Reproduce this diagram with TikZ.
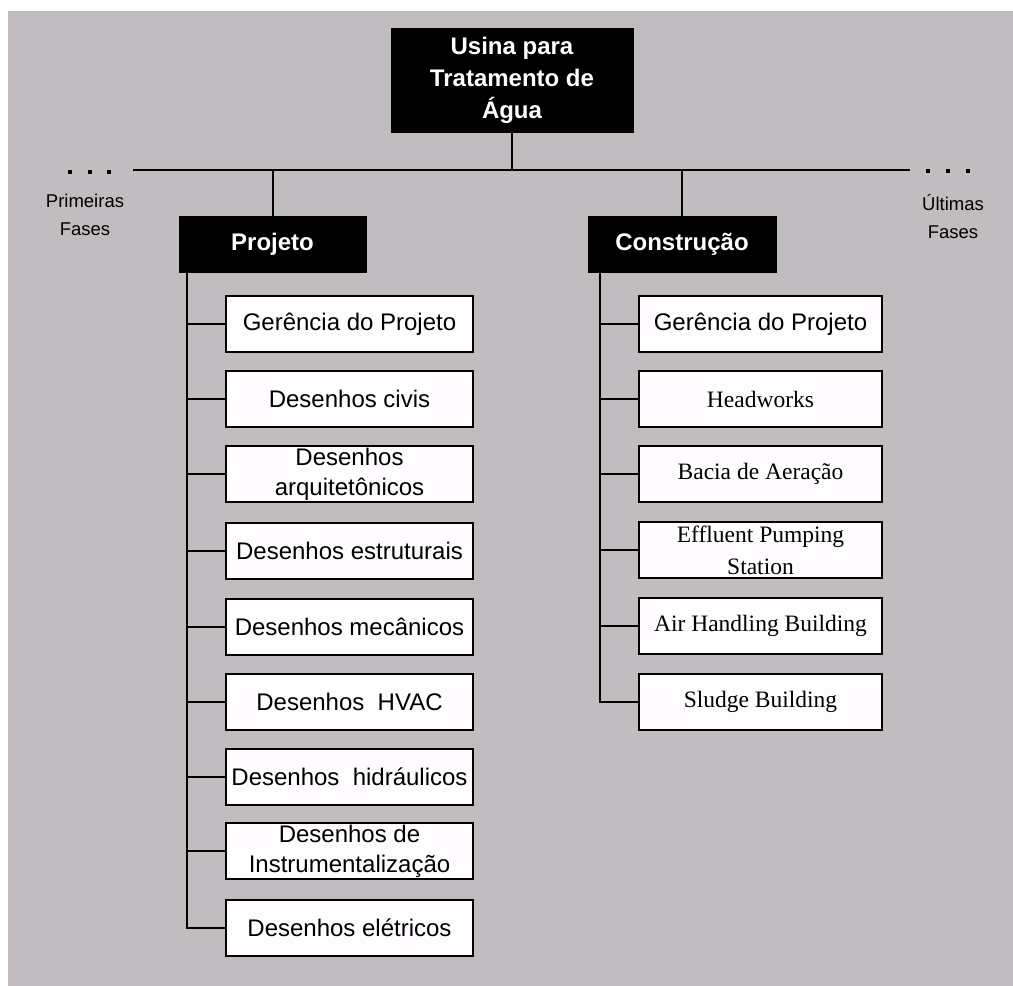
\documentclass[tikz,border=0pt]{standalone}
\usepackage{fontspec}
\setmainfont{Liberation Sans}
\newfontfamily\serifface{Liberation Serif}
\definecolor{paper}{RGB}{192,188,192}
\definecolor{boxwhite}{RGB}{255,252,255}
\begin{document}
\begin{tikzpicture}[x=1pt,y=-1pt,
  every node/.style={inner sep=0pt},
  head/.style={fill=black, draw=black, line width=1pt, text=white,
    font=\fontsize{24}{32}\selectfont\bfseries, align=center},
  item/.style={draw=black, line width=2pt, fill=boxwhite, minimum height=56pt,
    align=center, font=\fontsize{24}{30}\selectfont},
  litem/.style={item, minimum width=247pt},
  ritem/.style={item, minimum width=243pt},
  rm/.style={font=\serifface\fontsize{23.5}{32}\selectfont},
  link/.style={line width=2pt},
  side/.style={font=\fontsize{18.5}{28}\selectfont, align=center},
  dotmark/.style={fill=black}
]
% canvas
\useasboundingbox (0,0) rectangle (1013,986);
\fill[white] (0,0) rectangle (1013,986);
\fill[paper] (8,11) rectangle (1013,986);

% top of the tree and the two phases
\node[head, minimum width=242pt, minimum height=104pt] (root) at (512,80)
  {Usina para\\Tratamento de\\Água};
\node[head, minimum width=187pt, minimum height=56pt] (projeto) at (272.5,244) {Projeto};
\node[head, minimum width=188pt, minimum height=56pt] (construcao) at (682,244) {Construção};

% the phase bar with its open ends
\coordinate (barL) at (133,170);
\coordinate (barR) at (910,170);
\draw[link] (barL) -- (barR);
\draw[link] (root.south) -- (root.south |- barL);
\draw[link] (projeto.north) -- (projeto.north |- barL);
\draw[link] (construcao.north) -- (construcao.north |- barL);

\foreach \x in {70,90,109} \fill[dotmark] (\x-2,170) rectangle (\x+2,174);
\foreach \x in {928,948,968} \fill[dotmark] (\x-2,169) rectangle (\x+2,173);
\node[side] (prev) at (85,215) {Primeiras\\Fases};
\node[side] (next) at (953,217) {Últimas\\Fases};

% design work packages
\node[litem] (p1) at (349.5,324) {Gerência do Projeto};
\node[litem] (p2) at (349.5,399) {Desenhos civis};
\node[litem] (p3) at (349.5,474) {Desenhos\\arquitetônicos};
\node[litem] (p4) at (349.5,551) {Desenhos estruturais};
\node[litem] (p5) at (349.5,627) {Desenhos mecânicos};
\node[litem] (p6) at (349.5,702) {Desenhos\ \ HVAC};
\node[litem] (p7) at (349.5,777) {Desenhos\ \ hidráulicos};
\node[litem] (p8) at (349.5,851) {Desenhos de\\Instrumentalização};
\node[litem] (p9) at (349.5,928) {Desenhos elétricos};
\foreach \b in {p1,p2,p3,p4,p5,p6,p7,p8,p9}
  \draw[link] ([xshift=8pt]projeto.south west) |- (\b.west);

% construction work packages
\node[ritem] (c1) at (760.5,324) {Gerência do Projeto};
\node[ritem, rm] (c2) at (760.5,399) {Headworks};
\node[ritem, rm] (c3) at (760.5,474) {Bacia de Aeração};
\node[ritem, rm] (c4) at (760.5,550) {Effluent Pumping\\Station};
\node[ritem, rm] (c5) at (760.5,626) {Air Handling Building};
\node[ritem, rm] (c6) at (760.5,702) {Sludge Building};
\foreach \b in {c1,c2,c3,c4,c5,c6}
  \draw[link] ([xshift=12pt]construcao.south west) |- (\b.west);
\end{tikzpicture}
\end{document}
